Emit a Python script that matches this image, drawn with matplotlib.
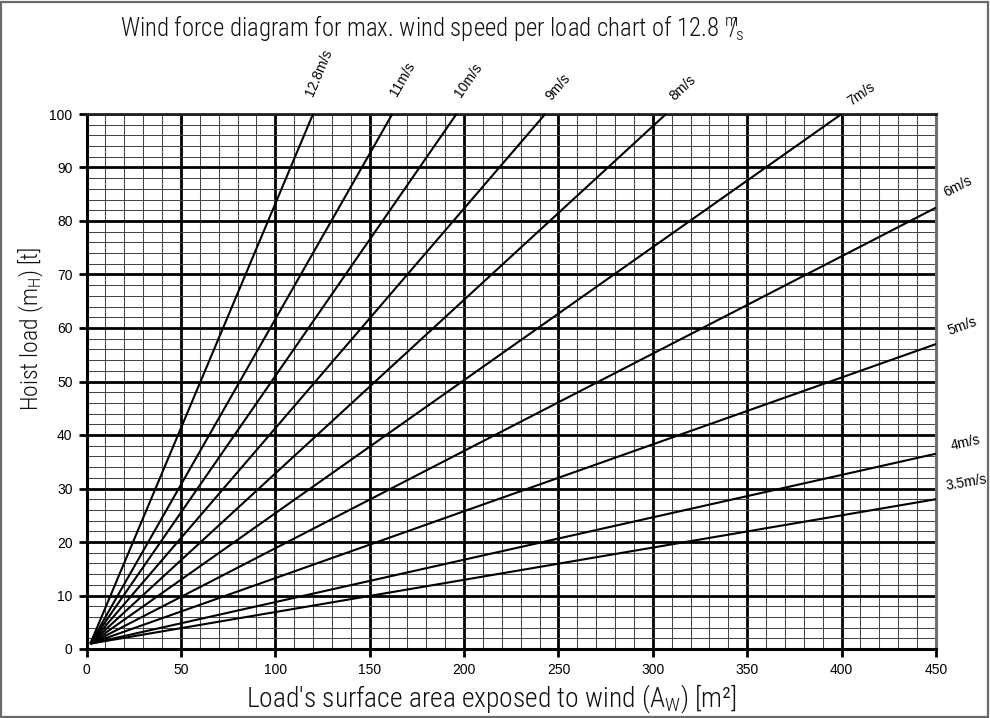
import matplotlib
matplotlib.use('Agg')
import matplotlib.pyplot as plt
import numpy as np
from matplotlib.patches import Rectangle
from matplotlib import font_manager

# ---------------- data ----------------
speed_labels = ['12.8m/s', '11m/s', '10m/s', '9m/s', '8m/s', '7m/s',
                '6m/s', '5m/s', '4m/s', '3.5m/s']
start_area = [2, 2, 2, 2, 2, 2, 2, 2, 2, 2]
start_load = [1, 1, 1, 1, 1, 1, 1, 1, 1, 1]
end_area = [120, 162, 196, 243, 307, 400, 450, 450, 450, 450]
end_load = [100, 100, 100, 100, 100, 100, 82.5, 57, 36.5, 28]

x_ticks = [0, 50, 100, 150, 200, 250, 300, 350, 400, 450]
y_ticks = [0, 10, 20, 30, 40, 50, 60, 70, 80, 90, 100]

title = r"Wind force diagram for max. wind speed per load chart of 12.8 $^{m}\!\!\!/_{\!s}$"
ylabel = r"Hoist load (m$_{H}$) [t]"
xlabel = r"Load's surface area exposed to wind (A$_{W}$) [m²]"

# label offsets in pixels (bottom-left anchor relative to line end)
label_off = [(3, 16), (7, 16), (7, 14), (8, 11), (10, 11), (11, 6),
             (12, 8), (14, 6), (16, 1), (11, 6)]

# ---------------- fonts ----------------
names = {f.name for f in font_manager.fontManager.ttflist}
narrow = 'Liberation Sans'
for cand in ['Roboto Condensed', 'Archivo Narrow', 'PT Sans Narrow']:
    if cand in names:
        narrow = cand
        break
plt.rcParams['font.family'] = ['Liberation Sans', 'DejaVu Sans']
plt.rcParams['mathtext.fontset'] = 'custom'
plt.rcParams['mathtext.rm'] = narrow + ':light'
plt.rcParams['mathtext.it'] = narrow + ':light'
plt.rcParams['mathtext.default'] = 'regular'

W, H = 990, 718
fig = plt.figure(figsize=(W / 100, H / 100), dpi=100)
ax = fig.add_axes([86.5 / W, 1 - 649 / H, (936 - 86.5) / W, (649 - 114) / H])
ax.set_xlim(0, 450)
ax.set_ylim(0, 100)

# grid
ax.set_xticks(x_ticks)
ax.set_yticks(y_ticks)
ax.set_xticks([v for v in range(0, 451, 10) if v % 50], minor=True)
ax.set_yticks([v for v in range(0, 101, 2) if v % 10], minor=True)
ax.grid(which='minor', color='#454545', linewidth=0.75, zorder=1)
ax.grid(which='major', color='black', linewidth=2.0, zorder=2)
ax.set_axisbelow(True)
ax.tick_params(which='minor', length=0)
ax.tick_params(which='major', length=6, width=2, color='black', labelsize=10,
               pad=4)
for lab in ax.get_xticklabels() + ax.get_yticklabels():
    lab.set_fontfamily(['Liberation Sans', 'DejaVu Sans'])

for s in ['left', 'bottom']:
    ax.spines[s].set_linewidth(2.2)
    ax.spines[s].set_color('black')
ax.spines['top'].set_linewidth(2.0)
ax.spines['top'].set_color('#222222')
ax.spines['right'].set_linewidth(2.2)
ax.spines['right'].set_color('#707070')

# wind lines
for i, lab in enumerate(speed_labels):
    xs = [start_area[i], end_area[i]]
    ys = [start_load[i], end_load[i]]
    ax.plot(xs, ys, color='black', linewidth=1.5, zorder=3, clip_on=False,
            solid_capstyle='butt')
    p = ax.transData.transform([[xs[0], ys[0]], [xs[1], ys[1]]])
    ang = np.degrees(np.arctan2(p[1, 1] - p[0, 1], p[1, 0] - p[0, 0]))
    dx, dy = label_off[i]
    ax.annotate(lab, xy=(xs[1], ys[1]), xytext=(dx * 0.72, dy * 0.72),
                textcoords='offset points', ha='left', va='bottom',
                rotation=ang, rotation_mode='anchor', fontsize=10,
                annotation_clip=False, family=['Liberation Sans', 'DejaVu Sans'])

# texts
fig.text(120 / W, 1 - 28 / H, title, fontsize=17.8, family=[narrow, 'DejaVu Sans'],
         weight='light', ha='left', va='center', color='#111111')
fig.text(31 / W, 1 - 329 / H, ylabel, fontsize=17, family=[narrow, 'DejaVu Sans'],
         weight='light', rotation=90, ha='center', va='center', color='#111111')
fig.text(491 / W, 1 - 699 / H, xlabel, fontsize=19.8, family=[narrow, 'DejaVu Sans'],
         weight='light', ha='center', va='center', color='#111111')

# figure frame
fig.patches.append(Rectangle((1 / W, 1 / H), 1 - 3 / W, 1 - 3 / H,
                             transform=fig.transFigure, fill=False,
                             edgecolor='#6a6a6a', linewidth=1.6))

fig.savefig('out.png', dpi=100)
